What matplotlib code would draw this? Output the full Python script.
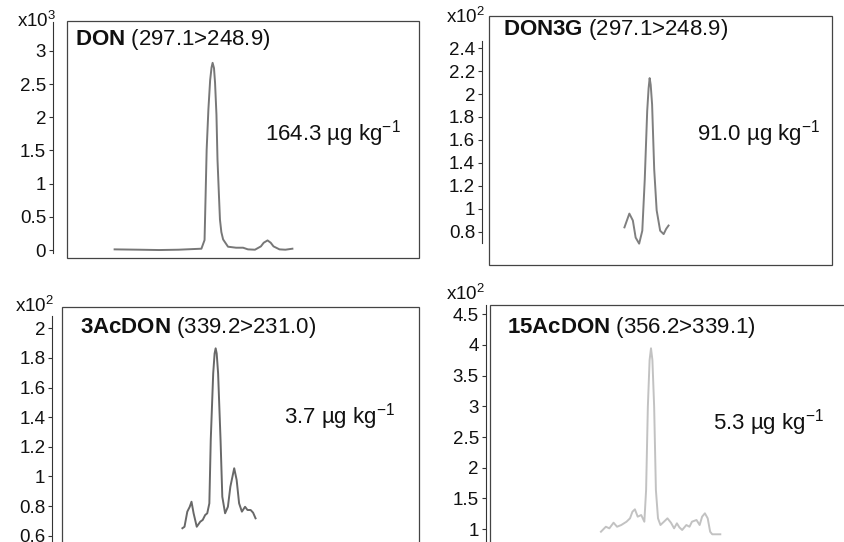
import matplotlib
matplotlib.use("Agg")
import matplotlib.pyplot as plt
from matplotlib.patches import Rectangle

plt.rcParams['font.family'] = ['Liberation Sans', 'DejaVu Sans']
plt.rcParams['mathtext.fontset'] = 'custom'
plt.rcParams['mathtext.rm'] = 'Liberation Sans'
plt.rcParams['mathtext.bf'] = 'Liberation Sans:bold'

W, H = 844, 542

# chromatogram traces (time in nominal minutes, intensity in the panel's x10^n units)
don_t = [1.36, 2.06, 2.63, 3.19, 3.84, 3.93, 3.96, 3.99, 4.04, 4.09, 4.13, 4.16,
         4.20, 4.23, 4.27, 4.30, 4.34, 4.37, 4.41, 4.46, 4.60, 4.83, 5.03, 5.17,
         5.37, 5.54, 5.62, 5.73, 5.82, 5.90, 6.07, 6.24, 6.44]
don_y = [0.01, 0.005, 0.0, 0.005, 0.02, 0.15, 0.82, 1.51, 2.12, 2.56, 2.75, 2.82,
         2.74, 2.52, 2.04, 1.36, 0.84, 0.46, 0.27, 0.16, 0.05, 0.035, 0.035, 0.01,
         0.005, 0.055, 0.11, 0.145, 0.11, 0.055, 0.01, 0.005, 0.02]

don3g_t = [3.87, 4.01, 4.11, 4.19, 4.29, 4.38, 4.45, 4.52, 4.56, 4.59, 4.62, 4.66,
           4.72, 4.79, 4.89, 4.99, 5.06, 5.13]
don3g_y = [0.838, 0.958, 0.898, 0.749, 0.696, 0.809, 1.255, 1.853, 2.05, 2.139, 2.08,
           1.909, 1.344, 0.987, 0.809, 0.779, 0.824, 0.854]

ac3_t = [3.44, 3.50, 3.58, 3.65, 3.70, 3.76, 3.85, 3.95, 4.02, 4.09, 4.15, 4.21,
         4.25, 4.32, 4.36, 4.39, 4.42, 4.46, 4.53, 4.58, 4.66, 4.74, 4.81, 4.92,
         4.99, 5.06, 5.14, 5.23, 5.30, 5.39, 5.46, 5.53]
ac3_y = [0.650, 0.660, 0.762, 0.795, 0.829, 0.751, 0.660, 0.694, 0.706, 0.739, 0.751,
         0.818, 1.246, 1.696, 1.83, 1.865, 1.83, 1.696, 1.246, 0.863, 0.751, 0.795,
         0.930, 1.055, 0.976, 0.818, 0.762, 0.795, 0.773, 0.773, 0.755, 0.717]

ac15_t = [3.17, 3.31, 3.41, 3.53, 3.63, 3.75, 3.90, 4.00, 4.07, 4.14, 4.22, 4.32,
          4.41, 4.46, 4.51, 4.56, 4.60, 4.64, 4.69, 4.74, 4.80, 4.87, 4.97, 5.07,
          5.17, 5.26, 5.34, 5.41, 5.49, 5.61, 5.70, 5.77, 5.90, 5.99, 6.06, 6.14,
          6.22, 6.29, 6.35, 6.58]
ac15_y = [0.956, 1.037, 1.011, 1.103, 1.037, 1.065, 1.119, 1.174, 1.282, 1.321, 1.201,
          1.228, 1.119, 1.636, 2.994, 3.755, 3.946, 3.755, 2.994, 1.636, 1.174, 1.065,
          1.119, 1.174, 1.103, 1.011, 1.093, 1.028, 0.984, 1.065, 1.037, 1.119, 1.147,
          1.065, 1.201, 1.256, 1.174, 0.956, 0.914, 0.914]

names = ["DON", "DON3G", "3AcDON", "15AcDON"]
transitions = ["(297.1>248.9)", "(297.1>248.9)", "(339.2>231.0)", "(356.2>339.1)"]
concs = ["164.3", "91.0", "3.7", "5.3"]
exps = ["3", "2", "2", "2"]
ticks = [[0, 0.5, 1, 1.5, 2, 2.5, 3],
         [0.8, 1, 1.2, 1.4, 1.6, 1.8, 2, 2.2, 2.4],
         [0.6, 0.8, 1, 1.2, 1.4, 1.6, 1.8, 2],
         [1, 1.5, 2, 2.5, 3, 3.5, 4, 4.5]]
traces = [(don_t, don_y), (don3g_t, don3g_y), (ac3_t, ac3_y), (ac15_t, ac15_y)]

# layout in pixels: box left, right, top, bottom; ylim; spine offset; spine bounds
boxes = [(67, 419, 21, 258), (489, 832, 16, 265), (62, 419, 307, 546), (490, 846, 305, 546)]
ylims = [(-0.12, 3.45), (0.51, 2.68), (0.530, 2.144), (0.723, 4.652)]
offsets = [10, 5, 7, 3]
bounds = [(-0.045, 3.44), (0.70, 2.46), (0.5, 2.083), (0.7, 4.65)]
colors = ["#777777", "#7f7f7f", "#686868", "#c2c2c2"]
# text anchors (px): title, concentration, exponent label (right edge)
title_xy = [(75, 45), (503, 35), (80, 333), (507, 333)]
conc_xy = [(265, 140), (697, 140), (284, 423), (713, 430)]
exp_xy = [(56, 27), (485, 23), (54, 312), (485, 300)]


def fx(px):
    return px / W


def fy(py):
    return 1 - py / H


fig = plt.figure(figsize=(W / 100, H / 100), dpi=100)

for i in range(4):
    l, r, t, b = boxes[i]
    ax = fig.add_axes([fx(l), fy(b), (r - l) / W, (b - t) / H])
    tt, yy = traces[i]
    ax.plot(tt, yy, color=colors[i], lw=1.4, solid_joinstyle="round")
    ax.set_xlim(0, (r - l) / 35.0)
    ax.set_ylim(*ylims[i])
    for s in ["top", "right", "bottom"]:
        ax.spines[s].set_visible(False)
    ax.spines["left"].set_position(("outward", offsets[i]))
    ax.spines["left"].set_bounds(*bounds[i])
    ax.spines["left"].set_color("#333333")
    ax.spines["left"].set_linewidth(0.8)
    ax.add_patch(Rectangle((0, 0), 1, 1, transform=ax.transAxes, fill=False,
                           ec="#444444", lw=0.9, clip_on=False))
    ax.set_xticks([])
    ax.set_yticks(ticks[i])
    ax.set_yticklabels([f"{v:g}" for v in ticks[i]])
    ax.tick_params(axis="y", length=3, width=0.8, color="#333333", pad=2,
                   labelsize=13.5, labelcolor="#111111")

    fig.text(fx(title_xy[i][0]), fy(title_xy[i][1]),
             r"$\bf{" + names[i] + "}$ " + transitions[i],
             fontsize=16, color="#111111", va="baseline", ha="left")
    fig.text(fx(conc_xy[i][0]), fy(conc_xy[i][1]),
             concs[i] + " µg kg$^{-1}$",
             fontsize=16, color="#111111", va="baseline", ha="left")
    fig.text(fx(exp_xy[i][0]), fy(exp_xy[i][1]), "x10$^{" + exps[i] + "}$",
             fontsize=13.5, color="#111111", va="baseline", ha="right")

fig.savefig("out.png", dpi=100)
